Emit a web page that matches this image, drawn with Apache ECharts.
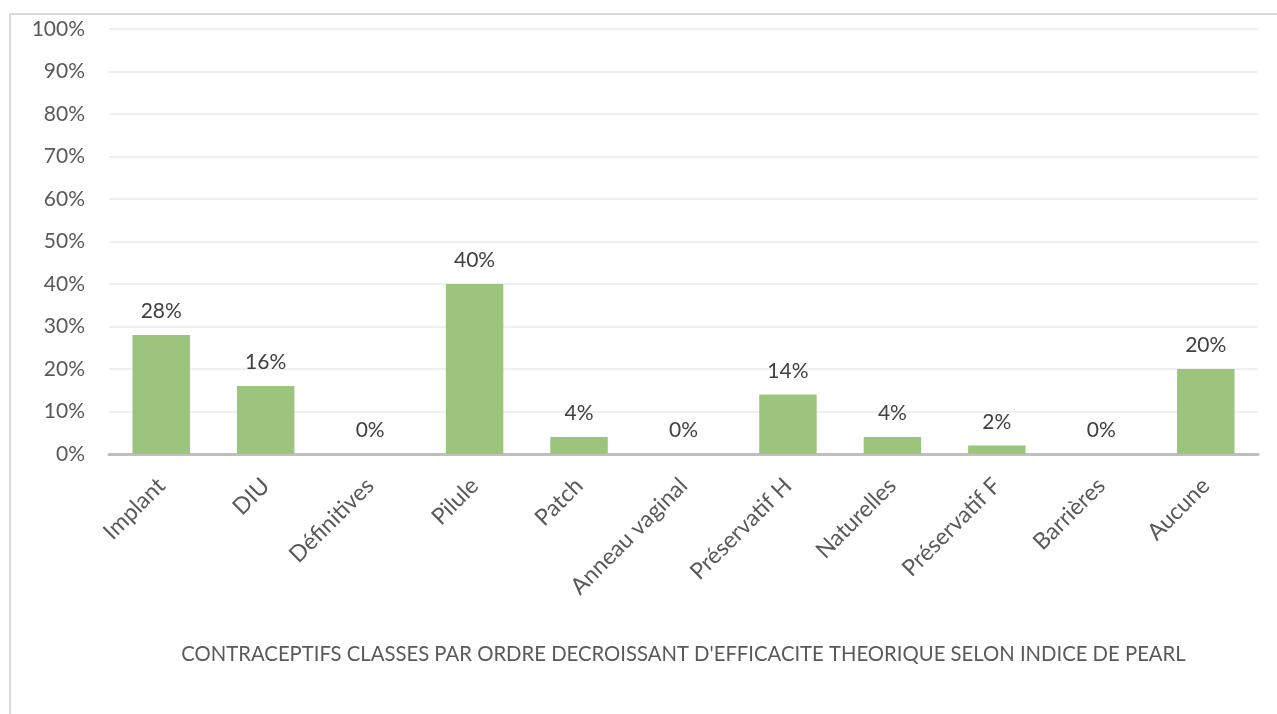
<!DOCTYPE html>
<html><head><meta charset="utf-8">
<script src="https://cdn.jsdelivr.net/npm/echarts@6/dist/echarts.min.js"></script>
<style>html,body{margin:0;padding:0;background:#fff}#c{width:1277px;height:714px}</style>
</head><body><div id="c"></div>
<script>
const categories = ['Implant','DIU','Définitives','Pilule','Patch','Anneau vaginal','Préservatif H','Naturelles','Préservatif F','Barrières','Aucune'];
const values = [28,16,0,40,4,0,14,4,2,0,20];
const axisTitle = "CONTRACEPTIFS CLASSES PAR ORDRE DECROISSANT D'EFFICACITE THEORIQUE SELON INDICE DE PEARL";
const FONT = 'Lato';
const chart = echarts.init(document.getElementById('c'));
chart.setOption({
  animation:false,
  textStyle:{fontFamily:FONT},
  graphic:[{type:'rect',shape:{x:10,y:14,width:1400,height:800},style:{fill:'none',stroke:'#d9d9d9',lineWidth:2},silent:true}],
  grid:{left:109,right:19,top:29,bottom:260,containLabel:false},
  xAxis:{type:'category',data:categories,
    axisLine:{lineStyle:{color:'#bfbfbf',width:3}},axisTick:{show:false},
    axisLabel:{rotate:45,interval:0,color:'#595959',fontSize:23,fontFamily:FONT,margin:28},
    name:axisTitle,nameLocation:'middle',nameGap:190,
    nameTextStyle:{color:'#595959',fontSize:20.3,fontFamily:FONT}},
  yAxis:{type:'value',min:0,max:100,interval:10,
    axisLabel:{formatter:'{value}%',color:'#595959',fontSize:21,fontFamily:FONT,margin:24},
    splitLine:{lineStyle:{color:'#f0f0f0',width:2}},axisLine:{show:false},axisTick:{show:false}},
  series:[{type:'bar',data:values,barCategoryGap:'45%',
    itemStyle:{color:'#9cc47d'},
    label:{show:true,position:'top',distance:13,formatter:'{c}%',color:'#404040',fontSize:21,fontFamily:FONT}}]
});
</script></body></html>
